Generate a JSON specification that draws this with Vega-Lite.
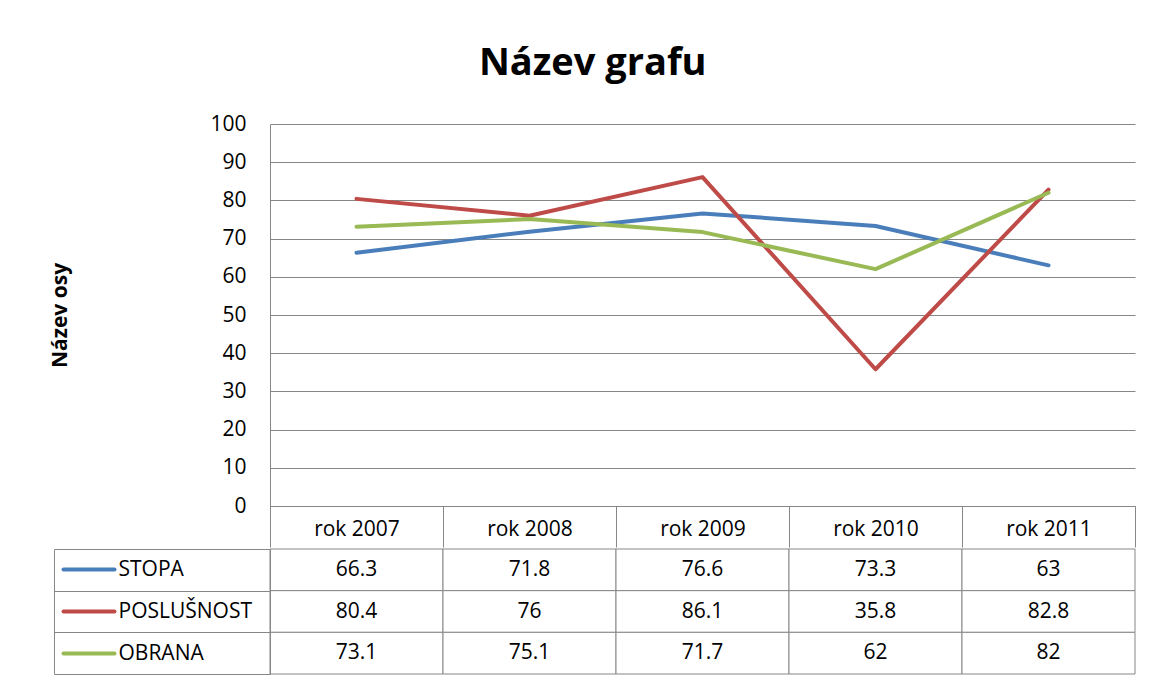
{
  "$schema": "https://vega.github.io/schema/vega-lite/v6.json",
  "padding": {"left": 49, "top": 45, "right": 19, "bottom": 5},
  "autosize": {"type": "pad"},
  "background": "white",
  "title": {"text": "Název grafu", "fontSize": 38, "font": "Open Sans", "fontWeight": "bold", "color": "black", "anchor": "middle", "offset": 30},
  "config": {
    "font": "Open Sans",
    "view": {"stroke": null},
    "axis": {"labelFont": "Open Sans", "titleFont": "Open Sans"}
  },
  "data": {"values": [
    {"year": "rok 2007", "series": "STOPA", "value": 66.3},
    {"year": "rok 2008", "series": "STOPA", "value": 71.8},
    {"year": "rok 2009", "series": "STOPA", "value": 76.6},
    {"year": "rok 2010", "series": "STOPA", "value": 73.3},
    {"year": "rok 2011", "series": "STOPA", "value": 63},
    {"year": "rok 2007", "series": "POSLUŠNOST", "value": 80.4},
    {"year": "rok 2008", "series": "POSLUŠNOST", "value": 76},
    {"year": "rok 2009", "series": "POSLUŠNOST", "value": 86.1},
    {"year": "rok 2010", "series": "POSLUŠNOST", "value": 35.8},
    {"year": "rok 2011", "series": "POSLUŠNOST", "value": 82.8},
    {"year": "rok 2007", "series": "OBRANA", "value": 73.1},
    {"year": "rok 2008", "series": "OBRANA", "value": 75.1},
    {"year": "rok 2009", "series": "OBRANA", "value": 71.7},
    {"year": "rok 2010", "series": "OBRANA", "value": 62},
    {"year": "rok 2011", "series": "OBRANA", "value": 82}
  ]},
  "spacing": -10,
  "vconcat": [
    {
      "width": 865,
      "height": 382,
      "mark": {"type": "line", "strokeWidth": 4, "strokeCap": "round", "strokeJoin": "round"},
      "encoding": {
        "x": {
          "field": "year", "type": "nominal",
          "scale": {"type": "band", "paddingInner": 0, "paddingOuter": 0},
          "axis": {"title": null, "labelAngle": 0, "tickBand": "extent", "tickSize": 41, "tickColor": "#878787", "domainColor": "#878787", "labelFontSize": 21, "labelPadding": -29, "labelColor": "black", "grid": false}
        },
        "y": {
          "field": "value", "type": "quantitative",
          "scale": {"domain": [0, 100], "nice": false},
          "axis": {"title": "Název osy", "titleFontSize": 21, "titleFontWeight": "bold", "titleColor": "black", "titlePadding": 139, "values": [0, 10, 20, 30, 40, 50, 60, 70, 80, 90, 100], "ticks": false, "labelPadding": 24, "labelFontSize": 21, "labelColor": "black", "grid": true, "gridColor": "#878787", "gridOpacity": 1, "domainColor": "#878787"}
        },
        "color": {
          "field": "series", "type": "nominal",
          "scale": {"domain": ["STOPA", "POSLUŠNOST", "OBRANA"], "range": ["#4A7EBB", "#BE4B48", "#98B954"]},
          "legend": null
        }
      }
    },
    {
      "width": 865,
      "height": 125,
      "layer": [
        {
          "mark": {"type": "rect", "fill": "white", "stroke": "#878787", "strokeWidth": 1},
          "encoding": {
            "x": {"field": "year", "type": "nominal", "scale": {"type": "band", "paddingInner": 0, "paddingOuter": 0}, "axis": null},
            "y": {
              "field": "series", "type": "nominal", "sort": ["STOPA", "POSLUŠNOST", "OBRANA"],
              "scale": {"type": "band", "paddingInner": 0, "paddingOuter": 0},
              "axis": {"orient": "left", "title": null, "domain": true, "domainColor": "#878787", "ticks": true, "tickBand": "extent", "tickSize": 216, "tickColor": "#878787", "labelAlign": "left", "labelPadding": -64, "labelFontSize": 21, "labelColor": "black", "grid": false}
            }
          }
        },
        {
          "mark": {"type": "text", "fontSize": 21, "color": "black", "font": "Open Sans"},
          "encoding": {
            "x": {"field": "year", "type": "nominal", "scale": {"type": "band", "paddingInner": 0, "paddingOuter": 0}, "axis": null},
            "y": {
              "field": "series", "type": "nominal", "sort": ["STOPA", "POSLUŠNOST", "OBRANA"],
              "scale": {"type": "band", "paddingInner": 0, "paddingOuter": 0},
              "axis": {"orient": "left", "title": null, "offset": 156, "domain": false, "labels": false, "ticks": true, "tickBand": "center", "tickSize": 51, "tickWidth": 4, "tickCap": "round",
                "tickColor": {"condition": [{"test": "datum.value === 'STOPA'", "value": "#4A7EBB"}, {"test": "datum.value === 'POSLUŠNOST'", "value": "#BE4B48"}], "value": "#98B954"},
                "grid": false}
            },
            "text": {"field": "value", "type": "nominal"}
          }
        },
        {
          "mark": {"type": "text", "opacity": 0},
          "encoding": {
            "x": {"field": "year", "type": "nominal", "scale": {"type": "band", "paddingInner": 0, "paddingOuter": 0}, "axis": null},
            "y": {
              "field": "series", "type": "nominal", "sort": ["STOPA", "POSLUŠNOST", "OBRANA"],
              "scale": {"type": "band", "paddingInner": 0, "paddingOuter": 0},
              "axis": {"orient": "left", "title": null, "offset": 216, "domain": true, "domainColor": "#878787", "ticks": false, "labels": false, "grid": false}
            },
            "text": {"field": "value", "type": "nominal"}
          }
        }
      ],
      "resolve": {"scale": {"y": "independent"}, "axis": {"y": "independent"}}
    }
  ]
}
